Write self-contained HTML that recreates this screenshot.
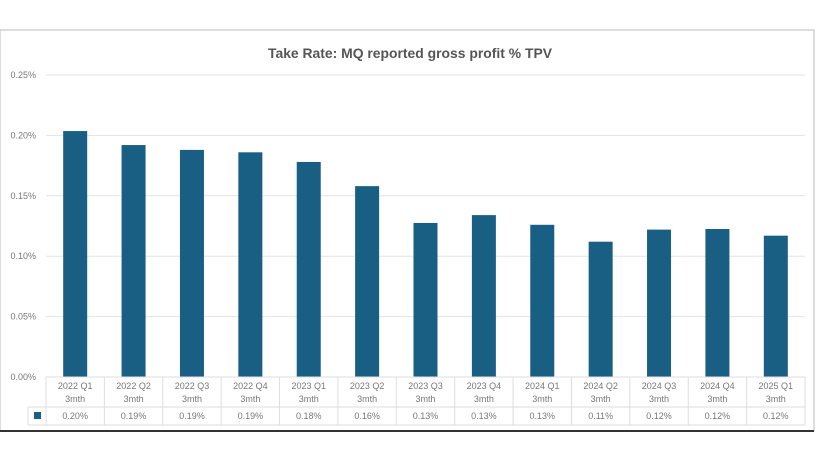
<!DOCTYPE html>
<html><head><meta charset="utf-8"><style>
body{margin:0;background:#fff;font-family:"Liberation Sans",sans-serif}
</style></head><body>
<svg id="c" width="820" height="461" xmlns="http://www.w3.org/2000/svg">
<rect x="0" y="30" width="814" height="401" fill="#fff" stroke="#bbb" stroke-width="1"/>
<line x1="0" y1="431" x2="814" y2="431" stroke="#333" stroke-width="2"/>
<text x="410" y="58" text-anchor="middle" font-size="14" font-weight="bold" fill="#555" textLength="284" lengthAdjust="spacingAndGlyphs" font-family="Liberation Sans Narrow, Liberation Sans, sans-serif">Take Rate: MQ reported gross profit % TPV</text>
</svg>
<script>
const categories=["2022 Q1","2022  Q2","2022  Q3","2022  Q4","2023 Q1","2023  Q2","2023  Q3","2023  Q4","2024 Q1","2024  Q2","2024 Q3","2024  Q4","2025  Q1"];
const values=[0.2036,0.192,0.188,0.186,0.178,0.158,0.1275,0.134,0.126,0.112,0.122,0.1225,0.117];
const labels=["0.20%","0.19%","0.19%","0.19%","0.18%","0.16%","0.13%","0.13%","0.13%","0.11%","0.12%","0.12%","0.12%"];
const ticks=[0,0.05,0.1,0.15,0.2,0.25];
const svg=document.getElementById('c'),NS="http://www.w3.org/2000/svg";
const x0=46,x1=805,y0=377,yTop=75,max=0.25;
const bw=(x1-x0)/categories.length;
const y=v=>y0-(v/max)*(y0-yTop);
function mk(t,a,txt){const e=document.createElementNS(NS,t);for(const k in a)e.setAttribute(k,a[k]);if(txt!=null)e.textContent=txt;svg.appendChild(e);return e;}
ticks.forEach(t=>{
 const g=mk('line',{x1:x0,x2:x1,y1:y(t),y2:y(t),stroke:'#e3e3e3','stroke-width':1});
 
 
 const l=mk('text',{x:36,y:y(t)+3,'text-anchor':'end','font-size':9,fill:'#777'},(t).toFixed(2)+'%');
 
 
});
values.forEach((v,i)=>{
 const cx=x0+bw*(i+0.5);
 const b=mk('rect',{x:cx-12,y:y(v),width:24,height:y0-y(v),fill:'#195e83'});
 
 
});
const tb=425;
mk('line',{x1:x0,x2:x1,y1:y0,y2:y0,stroke:'#ddd'});
mk('line',{x1:28,x2:x1,y1:407,y2:407,stroke:'#ddd'});
mk('line',{x1:28,x2:x1,y1:tb,y2:tb,stroke:'#ddd'});
mk('line',{x1:28,x2:28,y1:407,y2:tb,stroke:'#ddd'});
for(let i=0;i<=categories.length;i++){const xx=x0+bw*i;mk('line',{x1:xx,x2:xx,y1:y0,y2:tb,stroke:'#ddd'});}
const lg=mk('rect',{x:34,y:412,width:7,height:7,fill:'#195e83'});


categories.forEach((c,i)=>{
 const cx=x0+bw*(i+0.5);
 const t1=mk('text',{x:cx,y:389,'text-anchor':'middle','font-size':9,fill:'#777'},c);
 
 
 mk('text',{x:cx,y:402,'text-anchor':'middle','font-size':9,fill:'#777'},'3mth');
 const t2=mk('text',{x:cx,y:419,'text-anchor':'middle','font-size':9,fill:'#777'},labels[i]);
 
 
});
</script>
</body></html>
